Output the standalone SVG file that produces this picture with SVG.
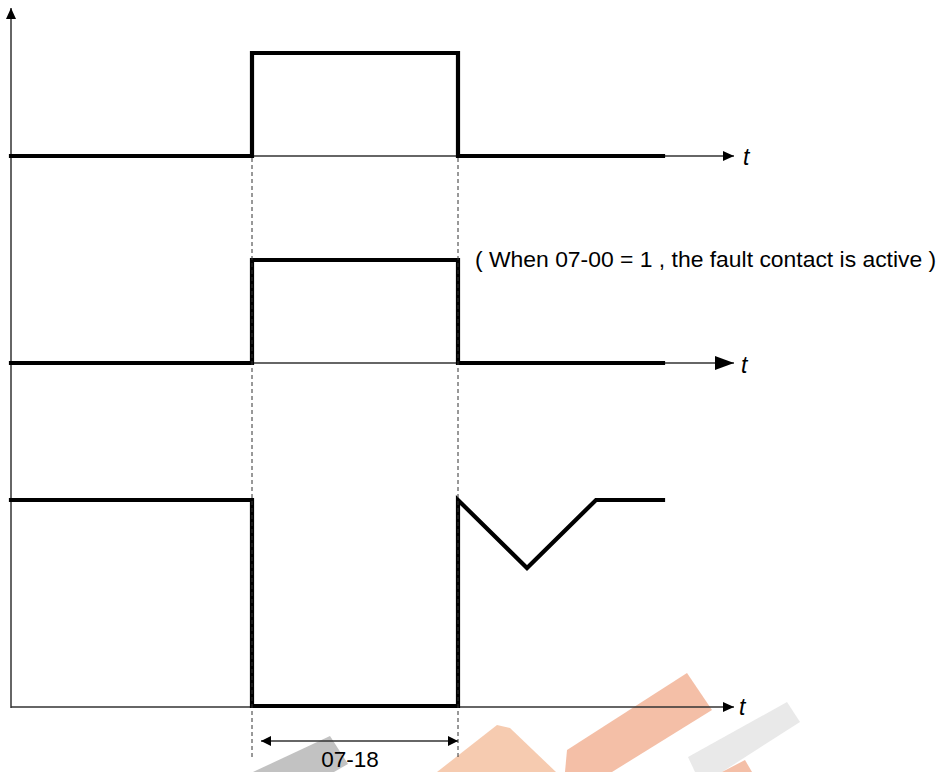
<svg xmlns="http://www.w3.org/2000/svg" width="942" height="772" viewBox="0 0 942 772">
  <style>
    .axis { stroke: #333; stroke-width: 1.5; fill: none; }
    .sig { stroke: #000; stroke-width: 4.2; fill: none; stroke-linejoin: miter; stroke-linecap: square; }
    .dash { stroke: #333; stroke-width: 1; stroke-dasharray: 4 3; fill: none; }
    .dim { stroke: #333; stroke-width: 1.5; fill: none; }
    .lbl { font-family: "Liberation Sans", Arial, sans-serif; fill: #000; }
    .t { font-family: "Liberation Sans", Arial, sans-serif; font-style: italic; font-size: 23px; fill: #000; }
  </style>
  <defs>
    <marker id="ah" markerUnits="userSpaceOnUse" markerWidth="12" markerHeight="10" refX="11" refY="5" orient="auto">
      <path d="M0,0 L11,5 L0,10 Z" fill="#000"/>
    </marker>
    <marker id="ahBig" markerUnits="userSpaceOnUse" markerWidth="20" markerHeight="14" refX="19" refY="7" orient="auto">
      <path d="M0,0 L19,7 L0,14 Z" fill="#000"/>
    </marker>
    <marker id="ahS" markerUnits="userSpaceOnUse" markerWidth="12" markerHeight="10" refX="10" refY="5" orient="auto-start-reverse">
      <path d="M0,0 L10,5 L0,10 Z" fill="#000"/>
    </marker>
  </defs>

  <g id="watermark">
    <polygon points="437,772 497,725 510,728 556,772" fill="#f5c2a2" opacity="0.85"/>
    <polygon points="567,750 687,673 712,710 612,772 565,772" fill="#f2b498" opacity="0.85"/>
    <polygon points="253,772 330,736 348,764 334,772" fill="#9a9a9a" opacity="0.6"/>
    <polygon points="688,757 787,702 800,722 722,772 695,772" fill="#e4e4e4" opacity="0.8"/>
    <polygon points="722,772 745,760 752,772" fill="#f2b498" opacity="0.85"/>
  </g>

  <g id="axes">
    <line class="axis" x1="11" y1="708" x2="11" y2="8" marker-end="url(#ah)"/>
    <line class="axis" x1="11" y1="156" x2="734" y2="156" marker-end="url(#ah)"/>
    <line class="axis" x1="11" y1="363" x2="734" y2="363" marker-end="url(#ahBig)"/>
    <line class="axis" x1="11" y1="707" x2="734" y2="707" marker-end="url(#ah)"/>
  </g>

  <g id="signal-1">
    <polyline class="sig" points="11,156 252,156 252,53 458,53 458,156 663,156"/>
  </g>
  <g id="signal-2">
    <polyline class="sig" points="11,363 252,363 252,260 458,260 458,363 663,363"/>
  </g>
  <g id="signal-3">
    <polyline class="sig" points="11,500 252,500 252,706 458,706 458,500 527,568 596,500 663,500"/>
  </g>

  <g id="connectors">
    <line class="dash" x1="252" y1="158" x2="252" y2="760"/>
    <line class="dash" x1="458" y1="158" x2="458" y2="760"/>
    <line class="dim" x1="261" y1="741" x2="458" y2="741" marker-start="url(#ahS)" marker-end="url(#ahS)"/>
  </g>

  <g id="labels">
    <text class="t" x="743" y="165">t</text>
    <text class="t" x="741" y="373">t</text>
    <text class="t" x="739" y="715">t</text>
    <text class="lbl" x="475" y="267" font-size="22.9">( When 07-00 = 1 , the fault contact is active )</text>
    <text class="lbl" x="350" y="767" font-size="22.5" text-anchor="middle">07-18</text>
  </g>
</svg>
